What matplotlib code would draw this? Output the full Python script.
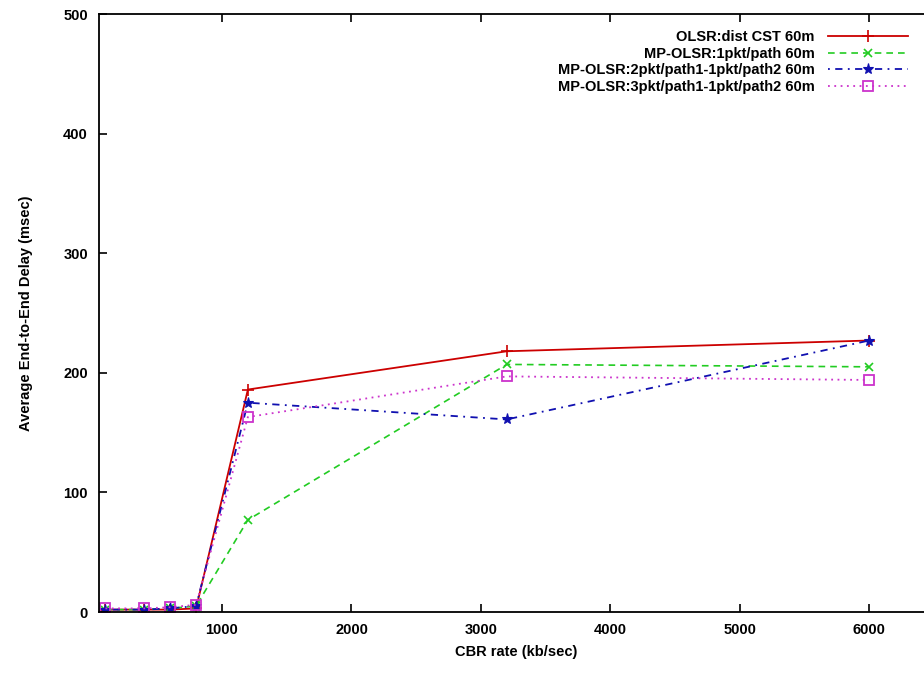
import matplotlib
matplotlib.use("Agg")
import matplotlib.pyplot as plt

plt.rcParams["font.family"] = ["Liberation Sans", "DejaVu Sans"]

# CBR rate (kb/sec)
rate = [100, 400, 600, 800, 1200, 3200, 6000]

olsr_cst = [2, 2, 2, 3, 186, 218, 227]
mp_1pkt = [2, 2, 3, 5, 77, 207, 205]
mp_2pkt = [2, 2, 3, 5, 175, 161, 227]
mp_3pkt = [3, 3, 4, 6, 163, 197, 194]

labels = [
    "OLSR:dist CST 60m",
    "MP-OLSR:1pkt/path 60m",
    "MP-OLSR:2pkt/path1-1pkt/path2 60m",
    "MP-OLSR:3pkt/path1-1pkt/path2 60m",
]

fig = plt.figure(figsize=(9.24, 6.74), dpi=100)
ax = fig.add_axes([99 / 924, 62 / 674, 835 / 924, 598 / 674])

ax.plot(rate, olsr_cst, color="#cc0000", linestyle="-", linewidth=1.3,
        marker="+", markersize=8, markeredgewidth=1.2, label=labels[0])
ax.plot(rate, mp_1pkt, color="#22cc22", linestyle=(0, (4, 3)), linewidth=1.2,
        marker="x", markersize=6, markeredgewidth=1.2, label=labels[1])
ax.plot(rate, mp_2pkt, color="#1010b0", linestyle=(0, (1, 3, 4, 3)), linewidth=1.3,
        marker="*", markersize=8, markeredgewidth=0.8, label=labels[2])
ax.plot(rate, mp_3pkt, color="#cc33cc", linestyle=(0, (1, 2.5)), linewidth=1.3,
        marker="s", markersize=7, markerfacecolor="none", markeredgewidth=1.3,
        label=labels[3])

ax.set_xlim(50, 6500)
ax.set_ylim(0, 500)
ax.set_xticks([1000, 2000, 3000, 4000, 5000, 6000])
ax.set_yticks([0, 100, 200, 300, 400, 500])

ax.tick_params(direction="in", length=6, width=1.2, top=True, right=True,
               labelsize=10.5, pad=8)
for lab in ax.get_xticklabels() + ax.get_yticklabels():
    lab.set_fontweight("bold")
for sp in ax.spines.values():
    sp.set_linewidth(1.3)

ax.set_xlabel("CBR rate (kb/sec)", fontsize=10.5, fontweight="bold", labelpad=6)
ax.set_ylabel("Average End-to-End Delay (msec)", fontsize=10.5,
              fontweight="bold", labelpad=22)

leg = ax.legend(loc="upper right", bbox_to_anchor=((908 - 99) / 835, 0.973),
                frameon=False, markerfirst=False, handlelength=5.5,
                fontsize=10.5, labelspacing=0.18, handletextpad=0.9,
                borderaxespad=0, borderpad=0)
for t in leg.get_texts():
    t.set_fontweight("bold")
    t.set_ha("right")

fig.savefig("out.png", dpi=100)
